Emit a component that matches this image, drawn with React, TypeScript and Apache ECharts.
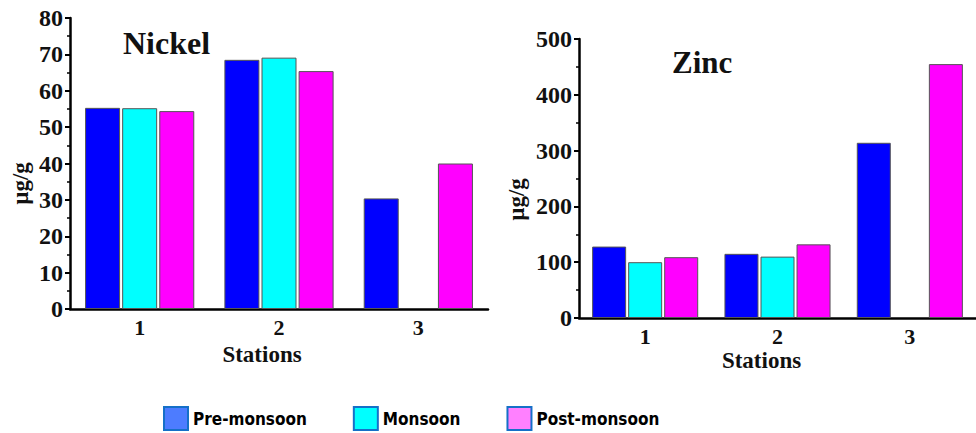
import React, { useEffect, useRef } from "react";
import * as echarts from "echarts";

const stations = ["1", "2", "3"];
const seriesNames = ["Pre-monsoon", "Monsoon", "Post-monsoon"];
const barColors = ["#0000ff", "#00ffff", "#ff00ff"];
const legendColors = ["#4d7cff", "#00ffff", "#ff80ff"];

const nickelPre = [55.3, 68.5, 30.4];
const nickelMon = [55.2, 69.1, null];
const nickelPost = [54.4, 65.4, 40.0];

const zincPre = [128, 115, 314];
const zincMon = [100, 110, null];
const zincPost = [109, 132, 455];

const nickelTicks = { min: 0, max: 80, interval: 10 };
const zincTicks = { min: 0, max: 500, interval: 100 };

const SERIF = "Liberation Serif";

export default function App() {
  const ref = useRef<HTMLDivElement>(null);
  useEffect(() => {
    if (!ref.current) return;
    const chart = echarts.init(ref.current, null, { renderer: "svg" });

    const mkX = (gridIndex: number, nameGap: number, namePad: number, labelMargin: number) => [
      {
        type: "category",
        gridIndex,
        data: stations,
        name: "Stations",
        nameLocation: "middle",
        nameGap,
        nameMoveOverlap: false,
        nameTextStyle: {
          fontFamily: SERIF,
          fontWeight: "bold",
          fontSize: 23,
          lineHeight: 16,
          color: "#111",
          padding: [0, namePad, 0, 0],
        },
        axisLine: { lineStyle: { color: "#000", width: 2.5 } },
        axisTick: { alignWithLabel: true, length: 6, lineStyle: { color: "#000", width: 2 } },
        axisLabel: {
          fontFamily: SERIF,
          fontWeight: "bold",
          fontSize: 22,
          lineHeight: 14,
          color: "#111",
          margin: labelMargin,
        },
        splitLine: { show: false },
      },
      {
        type: "category",
        gridIndex,
        data: stations,
        axisLine: { show: false },
        axisTick: { length: 5, lineStyle: { color: "#000", width: 2 } },
        axisLabel: { show: false },
        splitLine: { show: false },
      },
    ];

    const mkY = (gridIndex: number, ticks: any, nameGap: number, namePad: number) => ({
      type: "value",
      gridIndex,
      min: ticks.min,
      max: ticks.max,
      interval: ticks.interval,
      name: "µg/g",
      nameLocation: "middle",
      nameGap,
      nameRotate: 90,
      nameMoveOverlap: false,
      nameTextStyle: {
        fontFamily: SERIF,
        fontWeight: "bold",
        fontSize: 23,
        color: "#111",
        padding: [0, namePad, 0, 0],
      },
      axisLine: { show: true, lineStyle: { color: "#000", width: 2.5 } },
      axisTick: { show: true, length: 5, lineStyle: { color: "#000", width: 2 } },
      minorTick: { show: true, splitNumber: 2, length: 3, lineStyle: { color: "#000", width: 1.5 } },
      axisLabel: { fontFamily: SERIF, fontWeight: "bold", fontSize: 24, color: "#111", margin: 7 },
      splitLine: { show: false },
    });

    const mkSeries = (idx: number, data: any[], width: number) => ({
      type: "bar",
      name: seriesNames[idx],
      data,
      barWidth: width,
      barGap: "6%",
      itemStyle: { color: barColors[idx], borderColor: "#555", borderWidth: 1 },
    });

    const nickelSeries = [nickelPre, nickelMon, nickelPost].map((d, i) => ({
      ...mkSeries(i, d, 35),
      xAxisIndex: 0,
      yAxisIndex: 0,
    }));
    const zincSeries = [zincPre, zincMon, zincPost].map((d, i) => ({
      ...mkSeries(i, d, 34),
      xAxisIndex: 2,
      yAxisIndex: 1,
    }));

    chart.setOption({
      animation: false,
      backgroundColor: "#fff",
      title: [
        {
          text: "Nickel",
          left: 123,
          top: 27,
          padding: 0,
          textStyle: { fontFamily: SERIF, fontWeight: "bold", fontSize: 32, color: "#111" },
        },
        {
          text: "Zinc",
          left: 672,
          top: 47,
          padding: 0,
          textStyle: { fontFamily: SERIF, fontWeight: "bold", fontSize: 31, color: "#111" },
        },
      ],
      legend: {
        left: 163,
        top: 406,
        icon: "rect",
        itemWidth: 24,
        itemHeight: 23,
        itemGap: 46,
        padding: 0,
        textStyle: {
          fontFamily: "'DejaVu Sans Condensed', 'Liberation Sans', sans-serif",
          fontWeight: "bold",
          fontSize: 17,
          color: "#000",
        },
        data: seriesNames.map((n, i) => ({
          name: n,
          itemStyle: { color: legendColors[i], borderColor: "#1570c8", borderWidth: 2 },
        })),
      },
      grid: [
        { left: 70, top: 18, width: 418, height: 291 },
        { left: 579, top: 39, width: 405, height: 279 },
      ],
      xAxis: [...mkX(0, 37, 34, 11), ...mkX(1, 34, 32, 11)],
      yAxis: [mkY(0, nickelTicks, 38, 40), mkY(1, zincTicks, 51, 42)],
      series: [...nickelSeries, ...zincSeries],
    });
    return () => chart.dispose();
  }, []);
  return (
    <div
      ref={ref}
      style={{ position: "fixed", left: 0, top: 0, width: 976, height: 433 }}
    />
  );
}
